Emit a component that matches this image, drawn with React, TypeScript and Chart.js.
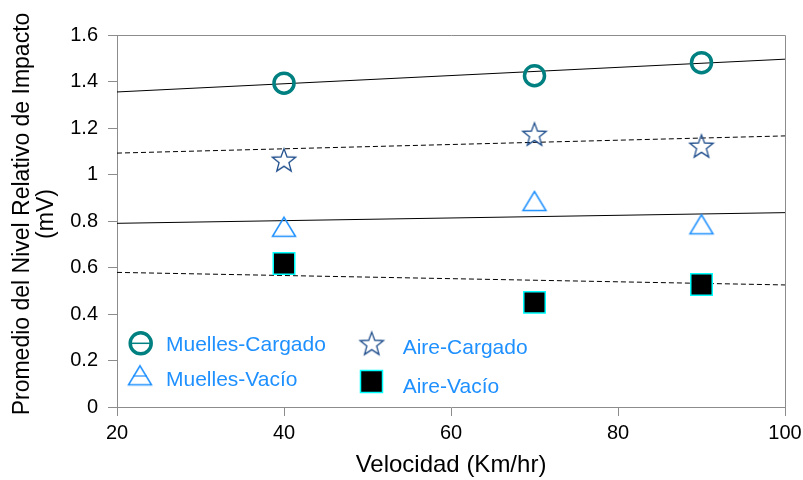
import React, { useEffect, useRef } from 'react';
import { Chart, registerables } from 'chart.js';

Chart.register(...registerables);

// ---- data ----
const speeds = [40, 70, 90];
const muellesCargado = [1.393, 1.425, 1.481];
const aireCargado = [1.063, 1.174, 1.123];
const muellesVacio = [0.775, 0.886, 0.786];
const aireVacio = [0.617, 0.45, 0.527];

const trendX = [20, 100];
const trendMuellesCargado = [1.355, 1.496];
const trendAireCargado = [1.092, 1.166];
const trendMuellesVacio = [0.79, 0.836];
const trendAireVacio = [0.579, 0.525];

const seriesLabels = ['Muelles-Cargado', 'Muelles-Vacío', 'Aire-Cargado', 'Aire-Vacío'];
const xTitle = 'Velocidad (Km/hr)';
const yTitle = ['Promedio del Nivel Relativo de Impacto', '(mV)'];

const TEAL = '#008080';
const NAVY = '#1f4e8c';
const LIGHTBLUE = '#1e90ff';
const CYAN = '#00ffff';
const AXIS = '#8c8c8c';
const FONT = '"Liberation Sans", Arial, sans-serif';

function toPoints(xs: number[], ys: number[]) {
  return xs.map((x, i) => ({ x, y: ys[i] }));
}

function starPath(ctx: CanvasRenderingContext2D, cx: number, cy: number, R: number, r: number) {
  ctx.beginPath();
  for (let i = 0; i < 10; i++) {
    const rad = i % 2 === 0 ? R : r;
    const a = -Math.PI / 2 + (i * Math.PI) / 5;
    const px = cx + Math.cos(a) * rad;
    const py = cy + Math.sin(a) * rad;
    if (i === 0) ctx.moveTo(px, py);
    else ctx.lineTo(px, py);
  }
  ctx.closePath();
}

function makeStar(): HTMLCanvasElement {
  const c = document.createElement('canvas');
  c.width = 28;
  c.height = 28;
  const ctx = c.getContext('2d')!;
  const R = 12.3;
  starPath(ctx, 14, 14 + 0.0955 * R, R, R * 0.42);
  ctx.strokeStyle = NAVY;
  ctx.lineWidth = 1.3;
  ctx.stroke();
  return c;
}

function makeTriangle(): HTMLCanvasElement {
  const c = document.createElement('canvas');
  c.width = 28;
  c.height = 26;
  const ctx = c.getContext('2d')!;
  ctx.beginPath();
  ctx.moveTo(14, 13 - 9.5);
  ctx.lineTo(14 - 11.5, 13 + 9.5);
  ctx.lineTo(14 + 11.5, 13 + 9.5);
  ctx.closePath();
  ctx.strokeStyle = LIGHTBLUE;
  ctx.lineWidth = 1.5;
  ctx.stroke();
  return c;
}

export default function App() {
  const ref = useRef<HTMLCanvasElement>(null);

  useEffect(() => {
    if (!ref.current) return;
    const star = makeStar();
    const tri = makeTriangle();

    const framePlugin = {
      id: 'frame',
      beforeDatasetsDraw(chart: any) {
        const { ctx, chartArea: a } = chart;
        ctx.save();
        ctx.strokeStyle = AXIS;
        ctx.lineWidth = 1;
        ctx.beginPath();
        ctx.moveTo(a.left, a.top + 0.5);
        ctx.lineTo(a.right + 0.5, a.top + 0.5);
        ctx.lineTo(a.right + 0.5, a.bottom);
        ctx.stroke();
        ctx.restore();
      },
    };

    const yTitlePlugin = {
      id: 'yTitle',
      afterDraw(chart: any) {
        const ctx = chart.ctx as CanvasRenderingContext2D;
        ctx.save();
        ctx.fillStyle = '#000';
        ctx.font = `23px ${FONT}`;
        ctx.textAlign = 'center';
        ctx.textBaseline = 'middle';
        ctx.translate(0, 214);
        ctx.rotate(-Math.PI / 2);
        ctx.fillText(yTitle[0], 0, 23);
        ctx.fillText(yTitle[1], 0, 47);
        ctx.restore();
      },
    };

    const legendPlugin = {
      id: 'customLegend',
      afterDraw(chart: any) {
        const ctx = chart.ctx as CanvasRenderingContext2D;
        ctx.save();
        // Muelles-Cargado
        ctx.strokeStyle = TEAL;
        ctx.lineWidth = 3.5;
        ctx.beginPath();
        ctx.arc(140.7, 343.3, 10.5, 0, Math.PI * 2);
        ctx.stroke();
        ctx.lineWidth = 1.5;
        ctx.beginPath();
        ctx.moveTo(131, 343.3);
        ctx.lineTo(150, 343.3);
        ctx.stroke();
        // Muelles-Vacío
        ctx.drawImage(tri, 140 - 14, 375.3 - 13);
        ctx.strokeStyle = LIGHTBLUE;
        ctx.lineWidth = 1.2;
        ctx.beginPath();
        ctx.moveTo(133, 376);
        ctx.lineTo(147, 376);
        ctx.stroke();
        // Aire-Cargado
        ctx.drawImage(star, 371.7 - 14, 343.3 - 14);
        // Aire-Vacío
        ctx.fillStyle = '#000';
        ctx.fillRect(360.5, 370.5, 22, 22);
        ctx.strokeStyle = CYAN;
        ctx.lineWidth = 1.5;
        ctx.strokeRect(360.5, 370.5, 22, 22);

        ctx.fillStyle = LIGHTBLUE;
        ctx.font = `21px ${FONT}`;
        ctx.textAlign = 'left';
        ctx.textBaseline = 'alphabetic';
        ctx.fillText(seriesLabels[0], 166, 350.7);
        ctx.fillText(seriesLabels[1], 166, 385.7);
        ctx.fillText(seriesLabels[2], 402.7, 354.3);
        ctx.fillText(seriesLabels[3], 402.7, 392.7);
        ctx.restore();
      },
    };

    const chart = new Chart(ref.current, {
      type: 'scatter',
      data: {
        datasets: [
          {
            label: seriesLabels[0],
            data: toPoints(speeds, muellesCargado),
            pointStyle: 'circle',
            pointRadius: 10,
            borderWidth: 3.5,
            borderColor: TEAL,
            backgroundColor: 'rgba(0,0,0,0)',
          },
          {
            label: seriesLabels[1],
            data: toPoints(speeds, muellesVacio),
            pointStyle: tri,
            pointRadius: 12,
          },
          {
            label: seriesLabels[2],
            data: toPoints(speeds, aireCargado),
            pointStyle: star,
            pointRadius: 12,
          },
          {
            label: seriesLabels[3],
            data: toPoints(speeds, aireVacio),
            pointStyle: 'rect',
            pointRadius: 15.2,
            borderWidth: 1.5,
            borderColor: CYAN,
            backgroundColor: '#000',
          },
          {
            type: 'line',
            label: 'trend-mc',
            data: toPoints(trendX, trendMuellesCargado),
            borderColor: '#000',
            borderWidth: 1,
            pointRadius: 0,
            showLine: true,
          },
          {
            type: 'line',
            label: 'trend-ac',
            data: toPoints(trendX, trendAireCargado),
            borderColor: '#000',
            borderWidth: 1,
            borderDash: [5, 3],
            pointRadius: 0,
            showLine: true,
          },
          {
            type: 'line',
            label: 'trend-mv',
            data: toPoints(trendX, trendMuellesVacio),
            borderColor: '#000',
            borderWidth: 1,
            pointRadius: 0,
            showLine: true,
          },
          {
            type: 'line',
            label: 'trend-av',
            data: toPoints(trendX, trendAireVacio),
            borderColor: '#000',
            borderWidth: 1,
            borderDash: [5, 3],
            pointRadius: 0,
            showLine: true,
          },
        ] as any,
      },
      options: {
        responsive: false,
        animation: false,
        events: [],
        layout: { padding: { left: 0, right: 18, top: 35, bottom: 0 } },
        plugins: {
          legend: { display: false },
          tooltip: { enabled: false },
        },
        scales: {
          x: {
            type: 'linear',
            min: 20,
            max: 100,
            ticks: {
              stepSize: 20,
              color: '#000',
              font: { family: FONT, size: 20 },
              padding: 5,
              maxRotation: 0,
            },
            grid: { drawOnChartArea: false, drawTicks: true, tickLength: 9, color: AXIS },
            border: { color: AXIS, width: 1 },
            title: {
              display: true,
              text: xTitle,
              color: '#000',
              font: { family: FONT, size: 24 },
              padding: { top: 0, bottom: 0 },
            },
            afterFit(scale: any) {
              scale.height = 73;
              scale.paddingLeft = 0;
              scale.paddingRight = 0;
            },
          },
          y: {
            type: 'linear',
            min: 0,
            max: 1.6,
            ticks: {
              stepSize: 0.2,
              color: '#000',
              font: { family: FONT, size: 20 },
              padding: 10,
              callback: (v: any) => String(Number(Number(v).toFixed(1))),
            },
            grid: { drawOnChartArea: false, drawTicks: true, tickLength: 9, color: AXIS },
            border: { color: AXIS, width: 1 },
            title: { display: false },
            afterFit(scale: any) {
              scale.width = 117;
              scale.paddingTop = 0;
              scale.paddingBottom = 0;
            },
          },
        },
      },
      plugins: [framePlugin, yTitlePlugin, legendPlugin],
    });

    return () => chart.destroy();
  }, []);

  return (
    <div style={{ position: 'fixed', left: 0, top: 0, width: 803, height: 480, background: '#fff' }}>
      <canvas ref={ref} width={803} height={480} />
    </div>
  );
}
